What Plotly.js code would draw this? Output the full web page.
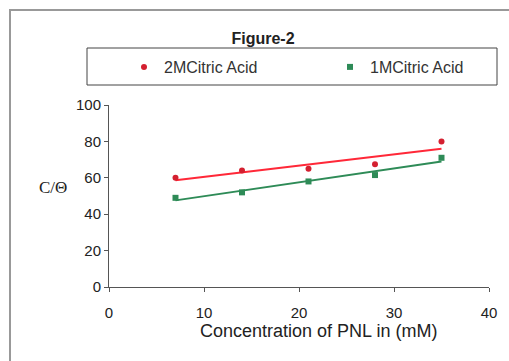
<!DOCTYPE html>
<html>
<head>
<meta charset="utf-8">
<script src="https://cdn.plot.ly/plotly-3.0.1.min.js"></script>
<style>html,body{margin:0;padding:0;background:#fff;}#chart{width:509px;height:361px;}</style>
</head>
<body>
<div id="chart"></div>
<script>
const concentration = [7, 14, 21, 28, 35];
const acid2M = [60, 64, 65, 67.5, 80];
const acid1M = [49, 52, 58, 61.5, 71];
const seriesNames = ["2MCitric Acid", "1MCitric Acid"];
const xTicks = [0, 10, 20, 30, 40];
const yTicks = [0, 20, 40, 60, 80, 100];
const xTitle = "Concentration of PNL in (mM)";
const yTitle = "C/Θ";
const chartTitle = "Figure-2";

function linFit(xs, ys) {
  const n = xs.length;
  const mx = xs.reduce((a, b) => a + b, 0) / n;
  const my = ys.reduce((a, b) => a + b, 0) / n;
  let sxy = 0, sxx = 0;
  for (let i = 0; i < n; i++) { sxy += (xs[i] - mx) * (ys[i] - my); sxx += (xs[i] - mx) ** 2; }
  const m = sxy / sxx, b = my - m * mx;
  const x0 = Math.min(...xs), x1 = Math.max(...xs);
  return { x: [x0, x1], y: [m * x0 + b, m * x1 + b] };
}
const fit2 = linFit(concentration, acid2M);
const fit1 = linFit(concentration, acid1M);

const W = 509, H = 361, L = 109, R = 20, T = 105, B = 74;
const pw = W - L - R, ph = H - T - B;
const px = v => (v - L) / pw;
const py = v => (H - B - v) / ph;

const data = [
  { x: fit2.x, y: fit2.y, mode: "lines", line: { color: "#ff2838", width: 2 }, showlegend: false, hoverinfo: "skip" },
  { x: fit1.x, y: fit1.y, mode: "lines", line: { color: "#2e8b57", width: 2 }, showlegend: false, hoverinfo: "skip" },
  { x: concentration, y: acid2M, mode: "markers", name: seriesNames[0], legend: "legend", marker: { color: "#d42030", size: 6 } },
  { x: concentration, y: acid1M, mode: "markers", name: seriesNames[1], legend: "legend2", marker: { color: "#2e8b57", size: 6, symbol: "square" } }
];

const legendBase = {
  orientation: "h", xanchor: "left", y: py(67), yanchor: "middle", itemwidth: 30,
  bgcolor: "rgba(0,0,0,0)", borderwidth: 0, font: { size: 16, color: "#333" }
};

const layout = {
  width: W, height: H,
  margin: { l: L, r: R, t: T, b: B },
  paper_bgcolor: "#fff", plot_bgcolor: "#fff",
  font: { family: "Liberation Sans, Arial, sans-serif", size: 15, color: "#222" },
  title: { text: "<b>" + chartTitle + "</b>", font: { size: 16, color: "#222" }, xref: "paper", x: px(263), xanchor: "center", yref: "container", y: 1 - 38 / H, yanchor: "middle" },
  xaxis: {
    range: [0, 40], tickvals: xTicks, ticks: "outside", ticklen: 4, tickcolor: "#555",
    showline: true, linecolor: "#555", linewidth: 1, showgrid: false, zeroline: false,
    ticklabelstandoff: 8, tickfont: { size: 15, color: "#222" }
  },
  yaxis: {
    range: [0, 100], tickvals: yTicks, ticks: "outside", ticklen: 4, tickcolor: "#555",
    showline: true, linecolor: "#555", linewidth: 1, showgrid: false, zeroline: false,
    tickfont: { size: 15, color: "#222" }
  },
  legend: Object.assign({}, legendBase, { x: px(124) }),
  legend2: Object.assign({}, legendBase, { x: px(330) }),
  annotations: [
    { text: xTitle, xref: "paper", yref: "paper", x: px(318), y: py(331), xanchor: "center", yanchor: "middle", showarrow: false, font: { size: 18, color: "#222" } },
    { text: yTitle, xref: "paper", yref: "paper", x: px(53), y: py(187), xanchor: "center", yanchor: "middle", showarrow: false, font: { family: "Liberation Serif, Times New Roman, serif", size: 17, color: "#222" } }
  ],
  shapes: [
    { type: "rect", xref: "paper", yref: "paper", x0: px(10), x1: px(530), y0: py(10), y1: py(380), line: { color: "#999", width: 2 }, layer: "below" },
    { type: "rect", xref: "paper", yref: "paper", x0: px(87), x1: px(497), y0: py(48), y1: py(85), line: { color: "#444", width: 1 }, layer: "below" }
  ]
};

Plotly.newPlot("chart", data, layout, { displayModeBar: false, staticPlot: true });
</script>
</body>
</html>
